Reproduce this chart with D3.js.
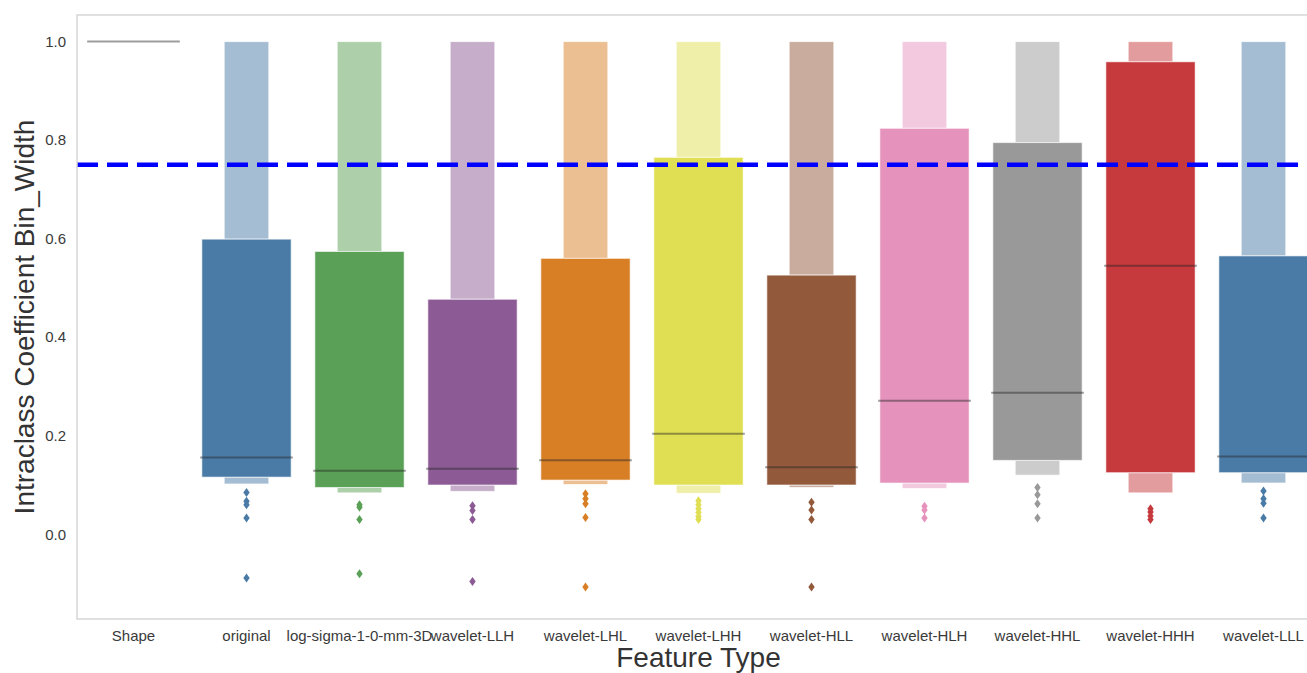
<!DOCTYPE html>
<html>
<head>
<meta charset="utf-8">
<script src="https://cdn.jsdelivr.net/npm/d3@7"></script>
<style>
  body { margin: 0; background: #fff; }
  text { font-family: "Liberation Sans", Arial, sans-serif; }
</style>
</head>
<body>
<div id="chart"></div>
<script>
var width = 1307;
var height = 673;

// letter-value summaries
var categories = ["Shape", "original", "log-sigma-1-0-mm-3D", "wavelet-LLH", "wavelet-LHL",
  "wavelet-LHH", "wavelet-HLL", "wavelet-HLH", "wavelet-HHL", "wavelet-HHH", "wavelet-LLL"];
var medians = [1.0, 0.156, 0.129, 0.133, 0.150, 0.204, 0.136, 0.271, 0.287, 0.545, 0.158];
var lv1Low  = [1.0, 0.116, 0.095, 0.100, 0.110, 0.100, 0.100, 0.104, 0.150, 0.125, 0.125];
var lv1High = [1.0, 0.599, 0.574, 0.477, 0.560, 0.765, 0.526, 0.824, 0.795, 0.959, 0.565];
var lv2Low  = [1.0, 0.102, 0.084, 0.087, 0.101, 0.083, 0.095, 0.093, 0.120, 0.084, 0.104];
var lv2High = [1.0, 1.0, 1.0, 1.0, 1.0, 1.0, 1.0, 1.0, 1.0, 1.0, 1.0];
var outliers = [
  [],
  [0.085, 0.067, 0.060, 0.033, -0.089],
  [0.060, 0.055, 0.030, -0.080],
  [0.058, 0.048, 0.030, -0.096],
  [0.082, 0.072, 0.062, 0.034, -0.107],
  [0.068, 0.060, 0.052, 0.044, 0.036, 0.030],
  [0.065, 0.049, 0.030, -0.107],
  [0.057, 0.049, 0.033],
  [0.095, 0.080, 0.062, 0.033],
  [0.052, 0.045, 0.037, 0.030],
  [0.088, 0.072, 0.063, 0.033]
];
var palette = ["#c6393d", "#4a7ba6", "#5aa056", "#8c5a94", "#d87f26", "#e0df53",
  "#93593b", "#e592bc", "#999999", "#c6393d", "#4a7ba6"];
var threshold = 0.75;
var yTicks = [0.0, 0.2, 0.4, 0.6, 0.8, 1.0];

var margin = {left: 77, top: 15, right: 1320, bottom: 619};

var svg = d3.select("#chart")
  .append("svg")
  .attr("width", width)
  .attr("height", height);

var x = d3.scaleBand()
  .domain(categories)
  .range([margin.left, margin.right])
  .padding(0);

var y = d3.scaleLinear()
  .domain([-0.172, 1.054])
  .range([margin.bottom, margin.top]);

var bw = x.bandwidth();
var boxW = bw * 0.79;

var data = categories.map(function (c, i) {
  return {cat: c, color: palette[i], med: medians[i], l1: lv1Low[i], h1: lv1High[i],
    l2: lv2Low[i], h2: lv2High[i], out: outliers[i]};
});

var g = svg.append("g");

data.forEach(function (d) {
  var cx = x(d.cat) + bw / 2;
  var light = d3.interpolateRgb(d.color, "#ffffff")(0.5);
  // outer level boxes (narrower, lighter)
  if (d.h2 > d.h1) {
    g.append("rect")
      .attr("x", cx - boxW / 4).attr("width", boxW / 2)
      .attr("y", y(d.h2)).attr("height", y(d.h1) - y(d.h2))
      .attr("fill", light).attr("stroke", "rgba(255,255,255,0.7)").attr("stroke-width", 1);
  }
  if (d.l1 > d.l2) {
    g.append("rect")
      .attr("x", cx - boxW / 4).attr("width", boxW / 2)
      .attr("y", y(d.l1)).attr("height", y(d.l2) - y(d.l1))
      .attr("fill", light).attr("stroke", "rgba(255,255,255,0.7)").attr("stroke-width", 1);
  }
  // inner box
  if (d.h1 > d.l1) {
    g.append("rect")
      .attr("x", cx - boxW / 2).attr("width", boxW)
      .attr("y", y(d.h1)).attr("height", y(d.l1) - y(d.h1))
      .attr("fill", d.color).attr("stroke", "rgba(255,255,255,0.6)").attr("stroke-width", 1);
  }
  // median
  g.append("line")
    .attr("x1", cx - bw * 0.41).attr("x2", cx + bw * 0.41)
    .attr("y1", y(d.med)).attr("y2", y(d.med))
    .attr("stroke", "rgba(38,38,38,0.45)").attr("stroke-width", 2);
  // outliers as thin diamonds
  g.selectAll(null)
    .data(d.out)
    .enter()
    .append("path")
    .attr("d", function (v) {
      var py = y(v);
      return "M" + cx + "," + (py - 4.5) + "L" + (cx + 3.2) + "," + py +
        "L" + cx + "," + (py + 4.5) + "L" + (cx - 3.2) + "," + py + "Z";
    })
    .attr("fill", d.color);
});

// reference line
svg.append("line")
  .attr("x1", margin.left).attr("x2", margin.right)
  .attr("y1", y(threshold)).attr("y2", y(threshold))
  .attr("stroke", "#0000ff").attr("stroke-width", 4.5)
  .attr("stroke-dasharray", "21,9");

// frame
svg.append("rect")
  .attr("x", margin.left).attr("y", margin.top)
  .attr("width", margin.right - margin.left)
  .attr("height", margin.bottom - margin.top)
  .attr("fill", "none").attr("stroke", "#d6d6d6").attr("stroke-width", 1.5);

// y tick labels
svg.selectAll(".ytick")
  .data(yTicks)
  .enter()
  .append("text")
  .attr("class", "ytick")
  .attr("x", 66)
  .attr("y", function (d) { return y(d); })
  .attr("dy", "0.35em")
  .attr("text-anchor", "end")
  .style("font-size", "15px")
  .style("fill", "#3a3a3a")
  .text(function (d) { return d.toFixed(1); });

// x tick labels
svg.selectAll(".xtick")
  .data(categories)
  .enter()
  .append("text")
  .attr("class", "xtick")
  .attr("x", function (d) { return x(d) + bw / 2; })
  .attr("y", 641)
  .attr("text-anchor", "middle")
  .style("font-size", "15px")
  .style("fill", "#3a3a3a")
  .text(function (d) { return d; });

// axis titles
svg.append("text")
  .attr("x", (margin.left + margin.right) / 2)
  .attr("y", 667)
  .attr("text-anchor", "middle")
  .style("font-size", "28px")
  .style("fill", "#333")
  .text("Feature Type");

svg.append("text")
  .attr("transform", "translate(34," + ((margin.top + margin.bottom) / 2) + ") rotate(-90)")
  .attr("text-anchor", "middle")
  .style("font-size", "28px")
  .style("fill", "#333")
  .text("Intraclass Coefficient Bin_Width");
</script>
</body>
</html>
